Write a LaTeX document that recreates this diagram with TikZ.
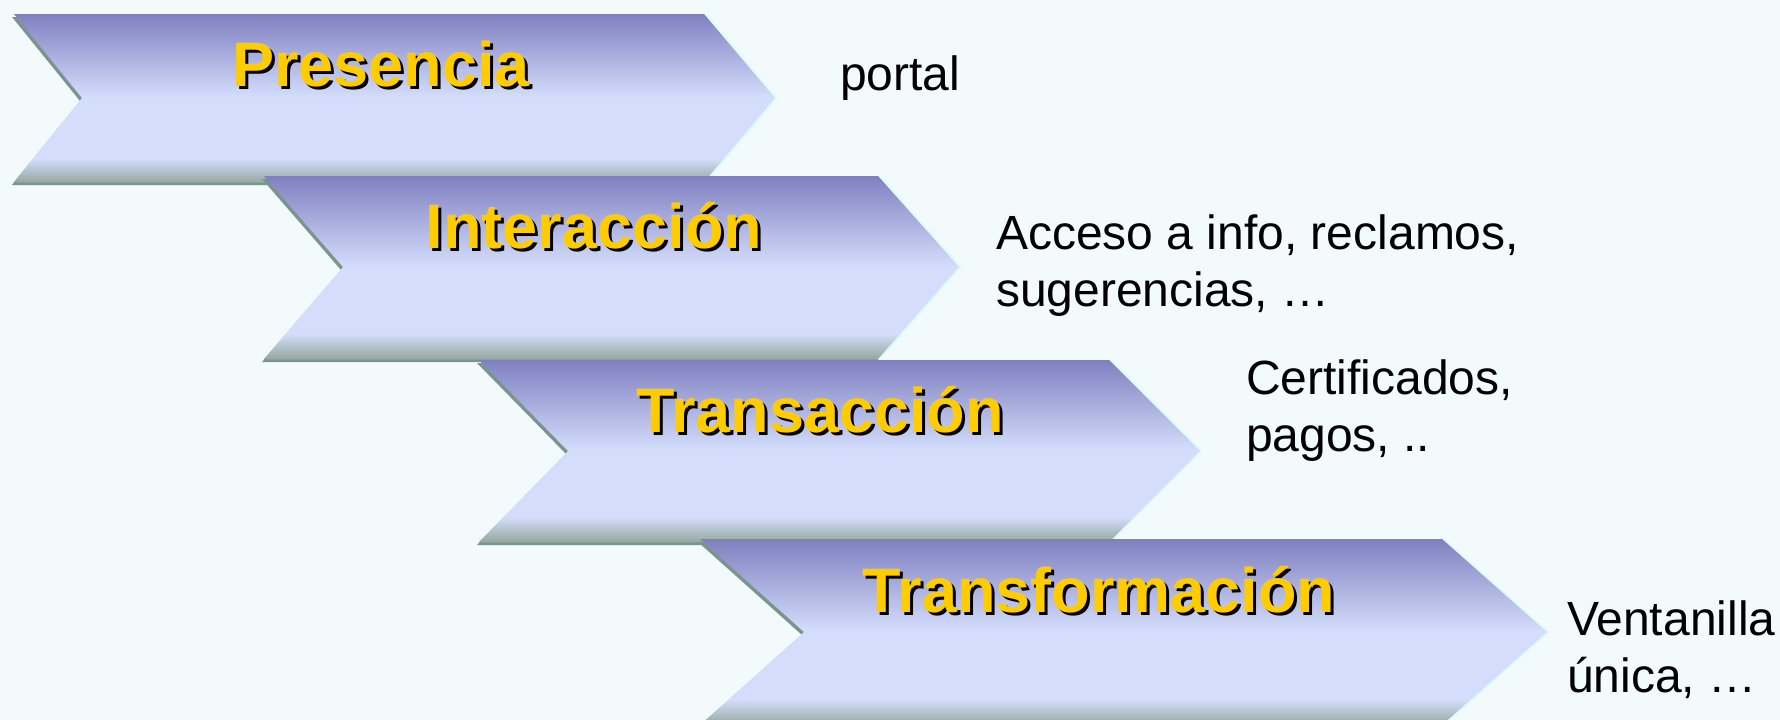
\documentclass[tikz,border=0pt]{standalone}
\usepackage{fontspec}
\setmainfont{Liberation Sans}
\usetikzlibrary{positioning}
\definecolor{Back-1}{RGB}{243,250,252}
\definecolor{Chev-top}{RGB}{128,128,192}
\definecolor{Chev-light}{RGB}{212,222,252}
\definecolor{Chev-bot}{RGB}{150,168,160}
\definecolor{Chev-edge}{RGB}{122,150,140}
\definecolor{Chev-glow}{RGB}{222,252,248}
\definecolor{Title-1}{RGB}{255,204,0}
\pgfdeclareverticalshading{chevshade}{100bp}{color(0bp)=(Chev-bot); color(25bp)=(Chev-bot); color(32bp)=(Chev-light); color(50bp)=(Chev-light); color(75bp)=(Chev-top); color(100bp)=(Chev-top)}

\begin{document}
\begin{tikzpicture}[x=1pt, y=-1pt]
    \tikzset{ chv/.style={preaction={fill=Chev-edge, transform canvas={xshift=-2pt, yshift=-3pt}}, preaction={fill=Chev-glow, transform canvas={xshift=3pt}}, shading=chevshade} }
    \tikzset{ ttl/.style={anchor=base, text=Title-1, inner sep=0pt, font=\fontsize{63}{70}\selectfont\bfseries} }
    \tikzset{ ttls/.style={ttl, text=black, xshift=3pt, yshift=-3pt} }
    \tikzset{ dsc/.style={anchor=base west, align=left, text=black, inner sep=0pt, font=\fontsize{48}{57}\selectfont} }

    \fill[Back-1] (0,0) rectangle (1780,720);
    \useasboundingbox (0,0) rectangle (1780,720);

    % stages
    \shade[chv] (14,14)   -- (704,14)   -- (775,98)   -- (704,182)  -- (14,182)   -- (82,98)   -- cycle;
    \shade[chv] (264,176) -- (878,176)  -- (959,267)  -- (878,359)  -- (264,359)  -- (343,267) -- cycle;
    \shade[chv] (479,360) -- (1109,360) -- (1200,451) -- (1109,542) -- (479,542)  -- (568,451) -- cycle;
    \shade[chv] (700,539) -- (1442,539) -- (1547,632) -- (1442,725) -- (700,725)  -- (804,632) -- cycle;

    \node[ttls] (s1s) at (381, 86)   {Presencia};
    \node[ttl]  (s1)  at (381, 86)   {Presencia};
    \node[ttls] (s2s) at (594, 248)  {Interacción};
    \node[ttl]  (s2)  at (594, 248)  {Interacción};
    \node[ttls] (s3s) at (820, 432)  {Transacción};
    \node[ttl]  (s3)  at (820, 432)  {Transacción};
    \node[ttls] (s4s) at (1099, 612) {Transformación};
    \node[ttl]  (s4)  at (1099, 612) {Transformación};

    % last line sits on the given point
    \node[dsc]  (d1)  at (840, 90)   {portal};
    \node[dsc]  (d2)  at (996, 306)  {Acceso a info, reclamos,\\sugerencias, …};
    \node[dsc]  (d3)  at (1246, 451) {Certificados,\\pagos, ..};
    \node[dsc]  (d4)  at (1567, 692) {Ventanilla\\única, …};
  \end{tikzpicture}
\end{document}
